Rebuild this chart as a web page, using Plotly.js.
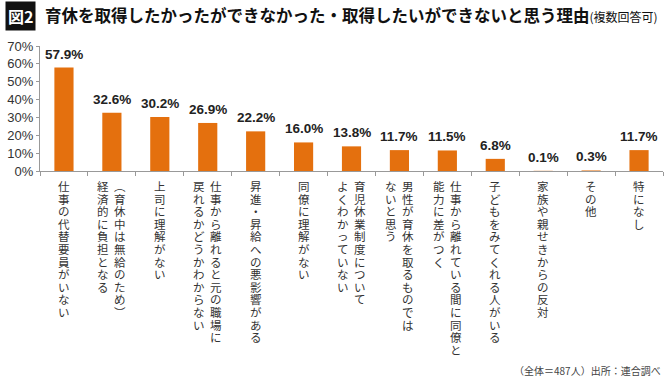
<!DOCTYPE html>
<html>
<head>
<meta charset="utf-8">
<script src="https://cdn.plot.ly/plotly-3.0.1.min.js"></script>
<style>
html,body{margin:0;padding:0;background:#fff;}
#chart{width:670px;height:380px;}
</style>
</head>
<body>
<div id="chart"></div>
<script>
// Category labels: each entry is a list of vertical columns, right-most column first
const labelColumns = [
  ["仕事の代替要員がいない"],
  ["︵育休中は無給のため︶", "経済的に負担となる"],
  ["上司に理解がない"],
  ["仕事から離れると元の職場に", "戻れるかどうかわからない"],
  ["昇進・昇給への悪影響がある"],
  ["同僚に理解がない"],
  ["育児休業制度について", "よくわかっていない"],
  ["男性が育休を取るものでは", "ないと思う"],
  ["仕事から離れている間に同僚と", "能力に差がつく"],
  ["子どもをみてくれる人がいる"],
  ["家族や親せきからの反対"],
  ["その他"],
  ["特になし"]
];
const categories = labelColumns.map(c => c.join(""));
const values = [57.9, 32.6, 30.2, 26.9, 22.2, 16.0, 13.8, 11.7, 11.5, 6.8, 0.1, 0.3, 11.7];
const yTickVals = [0, 10, 20, 30, 40, 50, 60, 70];
const yTickText = ["0%", "10%", "20%", "30%", "40%", "50%", "60%", "70%"];

const titleMain = "育休を取得したかったができなかった・取得したいができないと思う理由";
const titleSub = "(複数回答可)";
const figLabel = "図2";
const footnote = "（全体＝487人）出所：連合調べ";

const W = 670, H = 380;
const M = {l: 40, r: 7, t: 46, b: 209};
const plotW = W - M.l - M.r, plotH = H - M.t - M.b;
const px = x => (x - M.l) / plotW;
const py = y => (H - M.b - y) / plotH;

const cjk = '"Noto Sans CJK JP", "Noto Sans", sans-serif';
const annotations = [];

// value labels
categories.forEach((c, i) => {
  annotations.push({
    x: c, y: values[i], xref: 'x', yref: 'y',
    text: values[i].toFixed(1) + '%',
    showarrow: false, yanchor: 'bottom', yshift: 4,
    font: {family: 'Arial, "Liberation Sans", sans-serif', size: 13.5, color: '#222', weight: 'bold'}
  });
});

// vertical tick labels (one character per text, stacked top to bottom)
const pitch = 12.6, colGap = 17;
labelColumns.forEach((cols, i) => {
  const n = cols.length;
  cols.forEach((col, k) => {
    const xs = ((n - 1) / 2 - k) * colGap;
    Array.from(col).forEach((ch, j) => {
      annotations.push({
        x: categories[i], y: 0, xref: 'x', yref: 'paper',
        text: ch, showarrow: false,
        xanchor: 'center', yanchor: 'middle',
        xshift: xs, yshift: -(15 + j * pitch),
        borderpad: 0,
        font: {family: cjk, size: 11.5, color: '#333'}
      });
    });
  });
});

// figure label box
annotations.push({
  x: px(5), y: py(16), xref: 'paper', yref: 'paper',
  text: '<b>' + figLabel + '</b>', showarrow: false,
  xanchor: 'left', yanchor: 'middle',
  bgcolor: '#111', borderpad: 2,
  font: {family: cjk, size: 16, color: '#fff'}
});
// title
annotations.push({
  x: px(43), y: py(15), xref: 'paper', yref: 'paper',
  text: '<b>' + titleMain + '</b><span style="font-size:12px">' + titleSub + '</span>',
  showarrow: false, xanchor: 'left', yanchor: 'middle',
  font: {family: cjk, size: 16.5, color: '#111'}
});
// footnote
annotations.push({
  x: px(663), y: py(370), xref: 'paper', yref: 'paper',
  text: footnote, showarrow: false, xanchor: 'right', yanchor: 'middle',
  font: {family: cjk, size: 10, color: '#444'}
});

const data = [{
  type: 'bar',
  x: categories,
  y: values,
  marker: {color: '#e4700e'},
  hoverinfo: 'none'
}];

const layout = {
  width: W, height: H,
  margin: M,
  paper_bgcolor: '#fff', plot_bgcolor: '#fff',
  showlegend: false,
  bargap: 0.6,
  xaxis: {
    type: 'category',
    showticklabels: false,
    showline: true, linecolor: '#999', linewidth: 1,
    ticks: 'outside', tickson: 'boundaries', ticklen: 4, tickcolor: '#999',
    showgrid: false, zeroline: false, fixedrange: true
  },
  yaxis: {
    range: [0, 70],
    tickmode: 'array', tickvals: yTickVals, ticktext: yTickText,
    showline: true, linecolor: '#999', linewidth: 1,
    ticks: 'outside', ticklen: 3, tickcolor: '#999',
    showgrid: false, zeroline: false,
    tickfont: {family: 'Arial, "Liberation Sans", sans-serif', size: 13, color: '#333'},
    fixedrange: true
  },
  annotations: annotations
};

Plotly.newPlot('chart', data, layout, {displayModeBar: false, staticPlot: true});
</script>
</body>
</html>
